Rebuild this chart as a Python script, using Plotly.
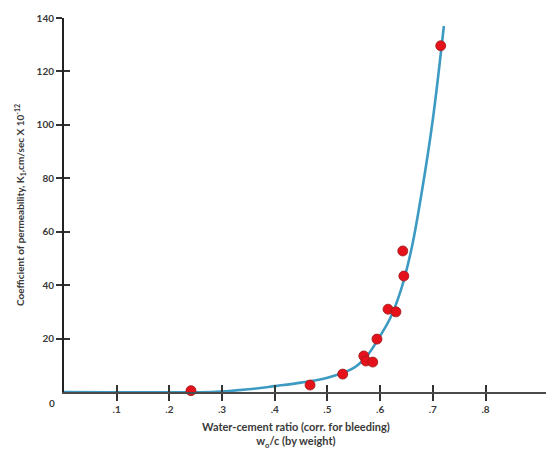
import plotly.graph_objects as go

# Measured points (water-cement ratio, permeability)
wc_points = [0.241, 0.467, 0.529, 0.569, 0.573, 0.586, 0.594, 0.615, 0.630, 0.643, 0.645, 0.715]
k_points = [0.5, 2.6, 6.7, 13.5, 11.6, 11.2, 19.8, 31.0, 30.0, 52.8, 43.4, 129.6]

# Fitted curve
wc_curve = [0.0, 0.28, 0.30, 0.35, 0.40, 0.45, 0.50, 0.55, 0.575, 0.60, 0.62, 0.64, 0.66, 0.68, 0.70, 0.721]
k_curve = [0.0, 0.0, 0.2, 1.0, 2.2, 3.5, 5.3, 9.0, 13.5, 21.0, 28.0, 38.5, 54.0, 76.0, 102.0, 137.0]

x_tickvals = [0.1, 0.2, 0.3, 0.4, 0.5, 0.6, 0.7, 0.8]
x_ticktext = [".1", ".2", ".3", ".4", ".5", ".6", ".7", ".8"]
y_tickvals = [20, 40, 60, 80, 100, 120, 140]
y_ticktext = ["20", "40", "60", "80", "100", "120", "140"]

FONT = "Lato"
TXT = "#3a3a3a"

fig = go.Figure()
fig.add_trace(go.Scatter(
    x=wc_curve, y=k_curve, mode="lines",
    line=dict(color="#3d9bc3", width=2.6, shape="spline", smoothing=1.0),
    cliponaxis=False, hoverinfo="skip", showlegend=False))
fig.add_trace(go.Scatter(
    x=wc_points, y=k_points, mode="markers",
    marker=dict(color="#e5121b", size=10, line=dict(color="#9a1a1a", width=0.8)),
    cliponaxis=False, showlegend=False))

xr = [0, 0.93]
yr = [0, 140]
fig.update_layout(
    width=546, height=441,
    margin=dict(l=56, r=0, t=10, b=57),
    plot_bgcolor="white", paper_bgcolor="white",
    font=dict(family=FONT, color=TXT, size=10),
    xaxis=dict(range=xr, showgrid=False, zeroline=False, showline=True,
               linecolor="#4a4a4a", linewidth=2, automargin=False,
               tickvals=x_tickvals, ticktext=x_ticktext,
               ticks="outside", ticklen=7, tickwidth=1.5, tickcolor="#333",
               tickfont=dict(family=FONT, size=10, color=TXT, weight="bold")),
    yaxis=dict(range=yr, showgrid=False, zeroline=False, showline=True,
               linecolor="#222", linewidth=2, automargin=False,
               tickvals=y_tickvals, ticktext=y_ticktext,
               ticks="outside", ticklen=6, tickwidth=1.5, tickcolor="#333",
               tickfont=dict(family=FONT, size=10, color=TXT, weight="bold"),
               title=dict(text="Coefficient of permeability, K<sub>1</sub>,cm/sec X 10<sup>-12</sup>",
                          font=dict(family=FONT, size=10, color=TXT, weight="bold"),
                          standoff=10)),
    xaxis2=dict(range=xr, overlaying="x", showgrid=False, zeroline=False,
                showline=False, tickvals=x_tickvals, showticklabels=False,
                ticks="inside", ticklen=7, tickwidth=1.5, tickcolor="#333",
                anchor="y", side="bottom"),
    yaxis2=dict(range=yr, overlaying="y", showgrid=False, zeroline=False,
                showline=False, tickvals=y_tickvals, showticklabels=False,
                ticks="inside", ticklen=6, tickwidth=1.5, tickcolor="#333",
                anchor="x", side="left"),
)
# dummy trace to activate the overlay axes
fig.add_trace(go.Scatter(x=[None], y=[None], xaxis="x2", yaxis="y2",
                         showlegend=False, hoverinfo="skip"))

fig.add_annotation(x=0, y=0, xref="x", yref="y", text="0", showarrow=False,
                   xanchor="center", yanchor="middle", xshift=-12, yshift=-11,
                   font=dict(family=FONT, size=10, color=TXT, weight="bold"))
fig.add_annotation(x=0.44, y=0, xref="x", yref="paper",
                   text="Water-cement ratio (corr. for bleeding)<br>w<sub>o</sub>/c (by weight)",
                   showarrow=False, xanchor="center", yanchor="top", yshift=-26,
                   font=dict(family=FONT, size=11, color=TXT, weight="bold"))

fig.write_html("out.html")
